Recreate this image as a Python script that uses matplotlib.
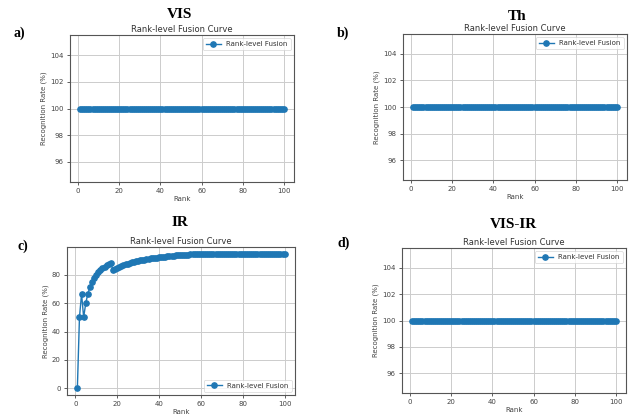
import matplotlib
matplotlib.use("Agg")
import matplotlib.pyplot as plt

W, H = 630, 415
rank = list(range(1, 101))

vis_rate = [100.0] * 100
th_rate = [100.0] * 100
visir_rate = [100.0] * 100
ir_rate = [
    0.0, 50.0, 66.7, 50.0, 60.0, 66.7, 71.4, 75.0, 77.8, 80.0,
    81.8, 83.3, 84.6, 85.7, 86.7, 87.5, 88.2, 83.3, 84.2, 85.0,
    85.7, 86.4, 87.0, 87.5, 88.0, 88.5, 88.9, 89.3, 89.7, 90.0,
    90.3, 90.6, 90.9, 91.2, 91.4, 91.7, 91.9, 92.1, 92.3, 92.5,
    92.7, 92.9, 93.0, 93.2, 93.3, 93.5, 93.6, 93.8, 93.9, 94.0,
    94.1, 94.2, 94.3, 94.4, 94.5, 94.6, 94.7, 94.8, 94.9, 95.0,
    95.0, 95.0, 95.0, 95.0, 95.0, 95.0, 95.0, 95.0, 95.0, 95.0,
    95.0, 95.0, 95.0, 95.0, 95.0, 95.0, 95.0, 95.0, 95.0, 95.0,
    95.0, 95.0, 95.0, 95.0, 95.0, 95.0, 95.0, 95.0, 95.0, 95.0,
    95.0, 95.0, 95.0, 95.0, 95.0, 95.0, 95.0, 95.0, 95.0, 95.0,
]

panels = [
    (vis_rate, "VIS", "a)", (70, 35, 294, 182), "upper right", (180, 14), (13, 33)),
    (th_rate, "Th", "b)", (403, 34, 627, 180), "upper right", (517, 16), (337, 33)),
    (ir_rate, "IR", "c)", (67, 247, 295, 395), "lower right", (180, 222), (18, 246)),
    (visir_rate, "VIS-IR", "d)", (402, 248, 626, 393), "upper right", (513, 224), (337, 243)),
]

fig = plt.figure(figsize=(W / 100, H / 100), dpi=100)
fig.patch.set_facecolor("white")

tc = "#444444"
for data, big, letter, (l, t, r, b), loc, (tx, ty), (lx, ly) in panels:
    ax = fig.add_axes([l / W, 1 - b / H, (r - l) / W, (b - t) / H])
    ax.plot(rank, data, marker="o", markersize=3.8, linewidth=1.0,
            color="#1f77b4", label="Rank-level Fusion")
    ax.grid(True, color="#cccccc", linewidth=0.7)
    ax.set_axisbelow(True)
    ax.set_title("Rank-level Fusion Curve", fontsize=6, color="#333333", pad=2)
    ax.set_xlabel("Rank", fontsize=5, color=tc, labelpad=1.5)
    ax.set_ylabel("Recognition Rate (%)", fontsize=5, color=tc, labelpad=2)
    ax.set_xticks([0, 20, 40, 60, 80, 100])
    ax.tick_params(labelsize=5, colors=tc, length=2.5, width=0.6, pad=2)
    for s in ax.spines.values():
        s.set_color("#555555")
        s.set_linewidth(0.8)
    leg = ax.legend(loc=loc, fontsize=5, frameon=True, fancybox=True,
                    borderpad=0.4, handlelength=2.2, labelcolor="#333333")
    leg.get_frame().set_linewidth(0.5)
    fig.text(tx / W, 1 - ty / H, big, ha="center", va="center",
             fontsize=11, fontweight="bold", family="Liberation Serif")
    fig.text(lx / W, 1 - ly / H, letter, ha="left", va="center",
             fontsize=10, fontweight="bold", family="Liberation Serif")

fig.savefig("out.png", dpi=100)
